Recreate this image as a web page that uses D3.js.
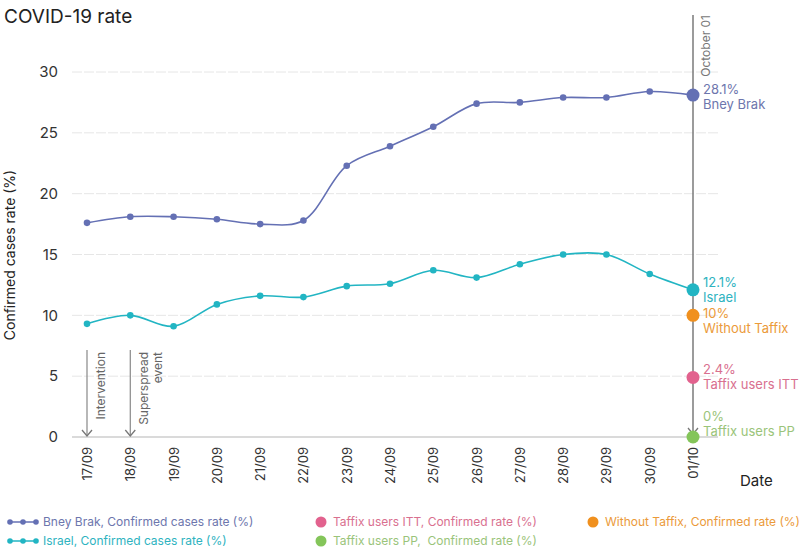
<!DOCTYPE html>
<html>
<head>
<meta charset="utf-8">
<script src="https://cdn.jsdelivr.net/npm/d3@7"></script>
<style>
	body { margin: 0; background: #fff; }
	svg { font-family: Inter, "Noto Sans", sans-serif; display: block; }
</style>
</head>
<body>
<div id="chart"></div>
<script>
// ---- data ----
const dates = ["17/09", "18/09", "19/09", "20/09", "21/09", "22/09", "23/09",
	"24/09", "25/09", "26/09", "27/09", "28/09", "29/09", "30/09", "01/10"];
const bneyBrak = [17.6, 18.1, 18.1, 17.9, 17.5, 17.8, 22.3, 23.9, 25.5, 27.4, 27.5, 27.9, 27.9, 28.4, 28.1];
const israel = [9.3, 10.0, 9.1, 10.9, 11.6, 11.5, 12.4, 12.6, 13.7, 13.1, 14.2, 15.0, 15.0, 13.4, 12.1];
const yTicks = [0, 5, 10, 15, 20, 25, 30];

// single end-point markers at 01/10 (plotted level, printed label)
const endNames = ["Without Taffix", "Taffix users ITT", "Taffix users PP"];
const endValues = [10, 4.9, 0];
const endLabels = ["10%", "2.4%", "0%"];

const colors = {
	bney: "#6470b4", bneyText: "#6d76ad",
	israel: "#22b5c3", israelText: "#2eb3bf",
	without: "#f0901e", withoutText: "#eb9a3a",
	itt: "#e2628e", ittText: "#d9708f",
	pp: "#84c55a", ppText: "#9ac47a"
};

const W = 800, H = 551;
const svg = d3.select("#chart").append("svg")
	.attr("width", W).attr("height", H);

const x = d3.scalePoint().domain(dates).range([87, 693]);
const y = d3.scaleLinear().domain([0, 30]).range([437, 72]);
const gridLeft = 72, gridRight = 718;

// title
svg.append("text")
	.attr("x", 4).attr("y", 23)
	.style("font-size", "19px").style("fill", "#222")
	.text("COVID-19 rate");

// gridlines
svg.append("g").selectAll("line")
	.data(yTicks.filter(d => d > 0))
	.join("line")
	.attr("x1", gridLeft).attr("x2", gridRight)
	.attr("y1", d => y(d)).attr("y2", d => y(d))
	.attr("stroke", "#e6e6e6").attr("stroke-width", 1)
	.attr("stroke-dasharray", "10,2");

// y axis (labels only)
const yAxis = svg.append("g")
	.attr("transform", `translate(${gridLeft},0)`)
	.call(d3.axisLeft(y).tickValues(yTicks).tickSize(0).tickPadding(14));
yAxis.select(".domain").remove();
yAxis.selectAll("text")
	.style("font-family", "Inter, sans-serif")
	.style("font-size", "15px").style("fill", "#333");

svg.append("text")
	.attr("transform", `translate(15,255) rotate(-90)`)
	.attr("text-anchor", "middle")
	.style("font-size", "14px").style("fill", "#222")
	.text("Confirmed cases rate (%)");

// x axis
svg.append("line")
	.attr("x1", gridLeft).attr("x2", gridRight)
	.attr("y1", y(0)).attr("y2", y(0))
	.attr("stroke", "#b5b5b5");
const xAxis = svg.append("g")
	.attr("transform", `translate(0,${y(0)})`)
	.call(d3.axisBottom(x).tickSize(0).tickPadding(0));
xAxis.select(".domain").remove();
xAxis.selectAll("text")
	.attr("transform", "rotate(-90)")
	.attr("x", -10).attr("y", 0).attr("dy", "0.35em")
	.style("text-anchor", "end")
	.style("font-family", "Inter, sans-serif")
	.style("font-size", "13px").style("fill", "#333");

svg.append("text")
	.attr("x", 740).attr("y", 486)
	.style("font-size", "15px").style("fill", "#222")
	.text("Date");

// arrow marker
svg.append("defs").append("marker")
	.attr("id", "arrow")
	.attr("viewBox", "0 0 12 12")
	.attr("refX", 6).attr("refY", 11)
	.attr("markerWidth", 12).attr("markerHeight", 12)
	.attr("markerUnits", "userSpaceOnUse")
	.attr("orient", "0")
	.append("path")
	.attr("d", "M1,5 L6,11 L11,5")
	.attr("fill", "none").attr("stroke", "#777").attr("stroke-width", 1.3);

// event annotations
const events = [
	{ date: "17/09", lines: ["Intervention"] },
	{ date: "18/09", lines: ["Superspread", "event"] }
];
events.forEach(ev => {
	svg.append("line")
		.attr("x1", x(ev.date)).attr("x2", x(ev.date))
		.attr("y1", 350).attr("y2", y(0) - 1)
		.attr("stroke", "#888").attr("stroke-width", 1.2)
		.attr("marker-end", "url(#arrow)");
	const t = svg.append("text")
		.attr("transform", `translate(${x(ev.date) + 9},352) rotate(-90)`)
		.attr("text-anchor", "end")
		.style("font-size", "12px").style("fill", "#666");
	ev.lines.forEach((l, i) => {
		t.append("tspan").attr("x", 0).attr("dy", i === 0 ? "0.75em" : "1.15em").text(l);
	});
});

// October 01 line
const xEnd = x("01/10");
svg.append("line")
	.attr("x1", xEnd).attr("x2", xEnd)
	.attr("y1", 15).attr("y2", y(0) - 3)
	.attr("stroke", "#7a7a7a").attr("stroke-width", 1.5)
	.attr("marker-end", "url(#arrow)");
svg.append("text")
	.attr("transform", `translate(${xEnd + 7},15) rotate(-90)`)
	.attr("text-anchor", "end").attr("dy", "0.8em")
	.style("font-size", "12px").style("fill", "#777")
	.text("October 01");

// series lines
const line = d3.line()
	.x((d, i) => x(dates[i]))
	.y(d => y(d))
	.curve(d3.curveCatmullRom.alpha(0.5));

const series = [
	{ name: "Bney Brak", values: bneyBrak, color: colors.bney, text: colors.bneyText },
	{ name: "Israel", values: israel, color: colors.israel, text: colors.israelText }
];

series.forEach(s => {
	svg.append("path")
		.datum(s.values)
		.attr("d", line)
		.attr("fill", "none")
		.attr("stroke", s.color).attr("stroke-width", 1.6);
	svg.append("g").selectAll("circle")
		.data(s.values.slice(0, -1))
		.join("circle")
		.attr("cx", (d, i) => x(dates[i]))
		.attr("cy", d => y(d))
		.attr("r", 3.3)
		.attr("fill", s.color);
});

// end-point markers and labels (shift = label offset from the dot)
const endPoints = [
	{ v: bneyBrak[bneyBrak.length - 1], label: bneyBrak[bneyBrak.length - 1] + "%", name: "Bney Brak", color: colors.bney, text: colors.bneyText, shift: -1 },
	{ v: israel[israel.length - 1], label: israel[israel.length - 1] + "%", name: "Israel", color: colors.israel, text: colors.israelText, shift: -3 },
	{ v: endValues[0], label: endLabels[0], name: endNames[0], color: colors.without, text: colors.withoutText, shift: 3 },
	{ v: endValues[1], label: endLabels[1], name: endNames[1], color: colors.itt, text: colors.ittText, shift: -3 },
	{ v: endValues[2], label: endLabels[2], name: endNames[2], color: colors.pp, text: colors.ppText, shift: -16 }
];

endPoints.forEach(p => {
	svg.append("circle")
		.attr("cx", xEnd).attr("cy", y(p.v))
		.attr("r", 6.5).attr("fill", p.color);
	const base = y(p.v) + p.shift;
	svg.append("text")
		.attr("x", xEnd + 10).attr("y", base)
		.style("font-size", "13px").style("fill", p.text)
		.text(p.label);
	svg.append("text")
		.attr("x", xEnd + 10).attr("y", base + 15)
		.style("font-size", "13px").style("fill", p.text)
		.text(p.name);
});

// legend
const legendLines = [
	{ label: "Bney Brak, Confirmed cases rate (%)", color: colors.bney, text: colors.bneyText, x: 8, y: 522 },
	{ label: "Israel, Confirmed cases rate (%)", color: colors.israel, text: colors.israelText, x: 8, y: 541 }
];
legendLines.forEach(l => {
	const g = svg.append("g").attr("transform", `translate(${l.x},${l.y})`);
	g.append("line").attr("x1", 1).attr("x2", 29).attr("y1", 0).attr("y2", 0)
		.attr("stroke", l.color).attr("stroke-width", 1.5);
	[2, 15, 28].forEach(cx => g.append("circle").attr("cx", cx).attr("cy", 0).attr("r", 2.8).attr("fill", l.color));
	g.append("text").attr("x", 35).attr("y", 0).attr("dy", "0.35em")
		.style("font-size", "12px").style("fill", l.text).text(l.label);
});

const legendDots = [
	{ label: "Taffix users ITT, Confirmed rate (%)", color: colors.itt, text: colors.ittText, x: 321, y: 522 },
	{ label: "Taffix users PP,  Confirmed rate (%)", color: colors.pp, text: colors.ppText, x: 321, y: 541 },
	{ label: "Without Taffix, Confirmed rate (%)", color: colors.without, text: colors.withoutText, x: 593, y: 522 }
];
legendDots.forEach(l => {
	const g = svg.append("g").attr("transform", `translate(${l.x},${l.y})`);
	g.append("circle").attr("cx", 0).attr("cy", 0).attr("r", 5.5).attr("fill", l.color);
	g.append("text").attr("x", 12).attr("y", 0).attr("dy", "0.35em")
		.style("font-size", "12px").style("fill", l.text)
		.style("white-space", "pre").text(l.label);
});
</script>
</body>
</html>
